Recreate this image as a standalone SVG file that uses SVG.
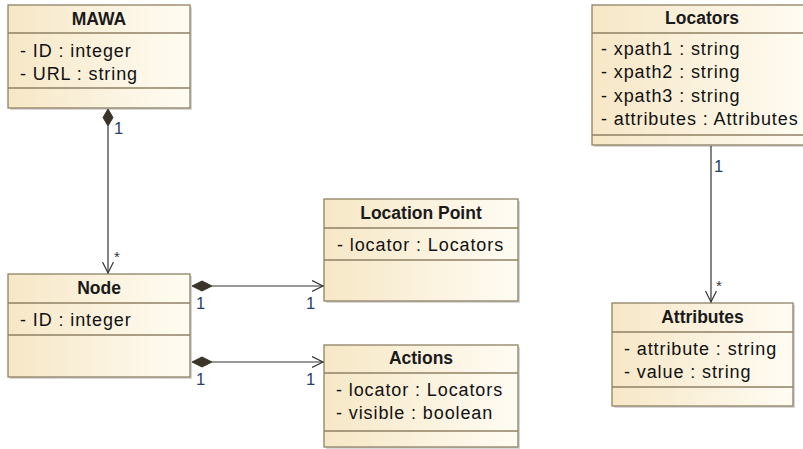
<svg xmlns="http://www.w3.org/2000/svg" width="803" height="449" viewBox="0 0 803 449">
<style>
.box{fill:url(#g);stroke:#8f8064;stroke-width:1.3}
.sh{fill:#bdbdbd;opacity:0.6}
.div{stroke:#8f8064;stroke-width:1.3}
.t{font-family:"Liberation Sans",Arial,sans-serif;font-weight:bold;font-size:17.5px;fill:#1a1a1a;text-anchor:middle}
.a{font-family:"Liberation Sans",Arial,sans-serif;font-size:18px;fill:#111;letter-spacing:0.9px}
.m{font-family:"Liberation Sans",Arial,sans-serif;font-size:16.5px;fill:#24406b}
.s{font-family:"Liberation Sans",Arial,sans-serif;font-size:15px;fill:#333}
.ln{stroke:#333;stroke-width:1.2;fill:none}
.dm{fill:#3a3328;stroke:#3a3328;stroke-width:1}
</style>
<defs>
<linearGradient id="g" x1="0" y1="0" x2="1" y2="0">
<stop offset="0" stop-color="#f6e7c6"/>
<stop offset="1" stop-color="#fffcf3"/>
</linearGradient>
<marker id="open" markerWidth="14" markerHeight="14" refX="11" refY="6" orient="auto" markerUnits="userSpaceOnUse">
<path d="M0,0.5 L11,6 L0,11.5" fill="none" stroke="#333" stroke-width="1.2"/>
</marker>
</defs>
<g id="MAWA">
<rect class="sh" x="10" y="7" width="182" height="103"/>
<rect class="box" x="8" y="5" width="182" height="103"/>
<line class="div" x1="8" y1="33" x2="190" y2="33"/>
<line class="div" x1="8" y1="88" x2="190" y2="88"/>
<text class="t" x="99" y="25">MAWA</text>
<text class="a" x="20" y="57">- ID : integer</text>
<text class="a" x="20" y="80">- URL : string</text>
</g>
<g id="Node">
<rect class="sh" x="10" y="276" width="182" height="103"/>
<rect class="box" x="8" y="274" width="182" height="103"/>
<line class="div" x1="8" y1="303" x2="190" y2="303"/>
<line class="div" x1="8" y1="335" x2="190" y2="335"/>
<text class="t" x="99" y="294">Node</text>
<text class="a" x="20" y="326">- ID : integer</text>
</g>
<g id="LocationPoint">
<rect class="sh" x="326" y="201" width="194" height="102"/>
<rect class="box" x="324" y="199" width="194" height="102"/>
<line class="div" x1="324" y1="228" x2="518" y2="228"/>
<line class="div" x1="324" y1="260" x2="518" y2="260"/>
<text class="t" x="421" y="219">Location Point</text>
<text class="a" x="337" y="251">- locator : Locators</text>
</g>
<g id="Actions">
<rect class="sh" x="326" y="347" width="194" height="102"/>
<rect class="box" x="324" y="345" width="194" height="102"/>
<line class="div" x1="324" y1="373" x2="518" y2="373"/>
<line class="div" x1="324" y1="431" x2="518" y2="431"/>
<text class="t" x="421" y="364">Actions</text>
<text class="a" x="336" y="396">- locator : Locators</text>
<text class="a" x="336" y="419">- visible : boolean</text>
</g>
<g id="Locators">
<rect class="sh" x="594" y="7" width="220" height="140"/>
<rect class="box" x="592" y="5" width="220" height="140"/>
<line class="div" x1="592" y1="33" x2="812" y2="33"/>
<line class="div" x1="592" y1="135" x2="812" y2="135"/>
<text class="t" x="702" y="24">Locators</text>
<text class="a" x="601" y="55">- xpath1 : string</text>
<text class="a" x="601" y="78">- xpath2 : string</text>
<text class="a" x="601" y="102">- xpath3 : string</text>
<text class="a" x="601" y="125">- attributes : Attributes</text>
</g>
<g id="Attributes">
<rect class="sh" x="614" y="305" width="181" height="103"/>
<rect class="box" x="612" y="303" width="181" height="103"/>
<line class="div" x1="612" y1="332" x2="793" y2="332"/>
<line class="div" x1="612" y1="387" x2="793" y2="387"/>
<text class="t" x="702.5" y="323">Attributes</text>
<text class="a" x="624" y="355">- attribute : string</text>
<text class="a" x="624" y="378">- value : string</text>
</g>
<g id="connectors">
<line class="ln" x1="108" y1="126" x2="108" y2="273" marker-end="url(#open)"/>
<path class="dm" d="M108,109 L113,117.5 L108,126 L103,117.5 Z"/>
<text class="m" x="114" y="134">1</text>
<text class="s" x="114" y="262">*</text>
<line class="ln" x1="212" y1="286" x2="323" y2="286" marker-end="url(#open)"/>
<path class="dm" d="M192,286 L202,281 L212,286 L202,291 Z"/>
<text class="m" x="196" y="309">1</text>
<text class="m" x="306" y="309">1</text>
<line class="ln" x1="212" y1="362" x2="323" y2="362" marker-end="url(#open)"/>
<path class="dm" d="M192,362 L202,357 L212,362 L202,367 Z"/>
<text class="m" x="196" y="385">1</text>
<text class="m" x="306" y="385">1</text>
<line class="ln" x1="711" y1="146" x2="711" y2="302" marker-end="url(#open)"/>
<text class="m" x="714" y="172">1</text>
<text class="s" x="716" y="291">*</text>
</g>
</svg>
